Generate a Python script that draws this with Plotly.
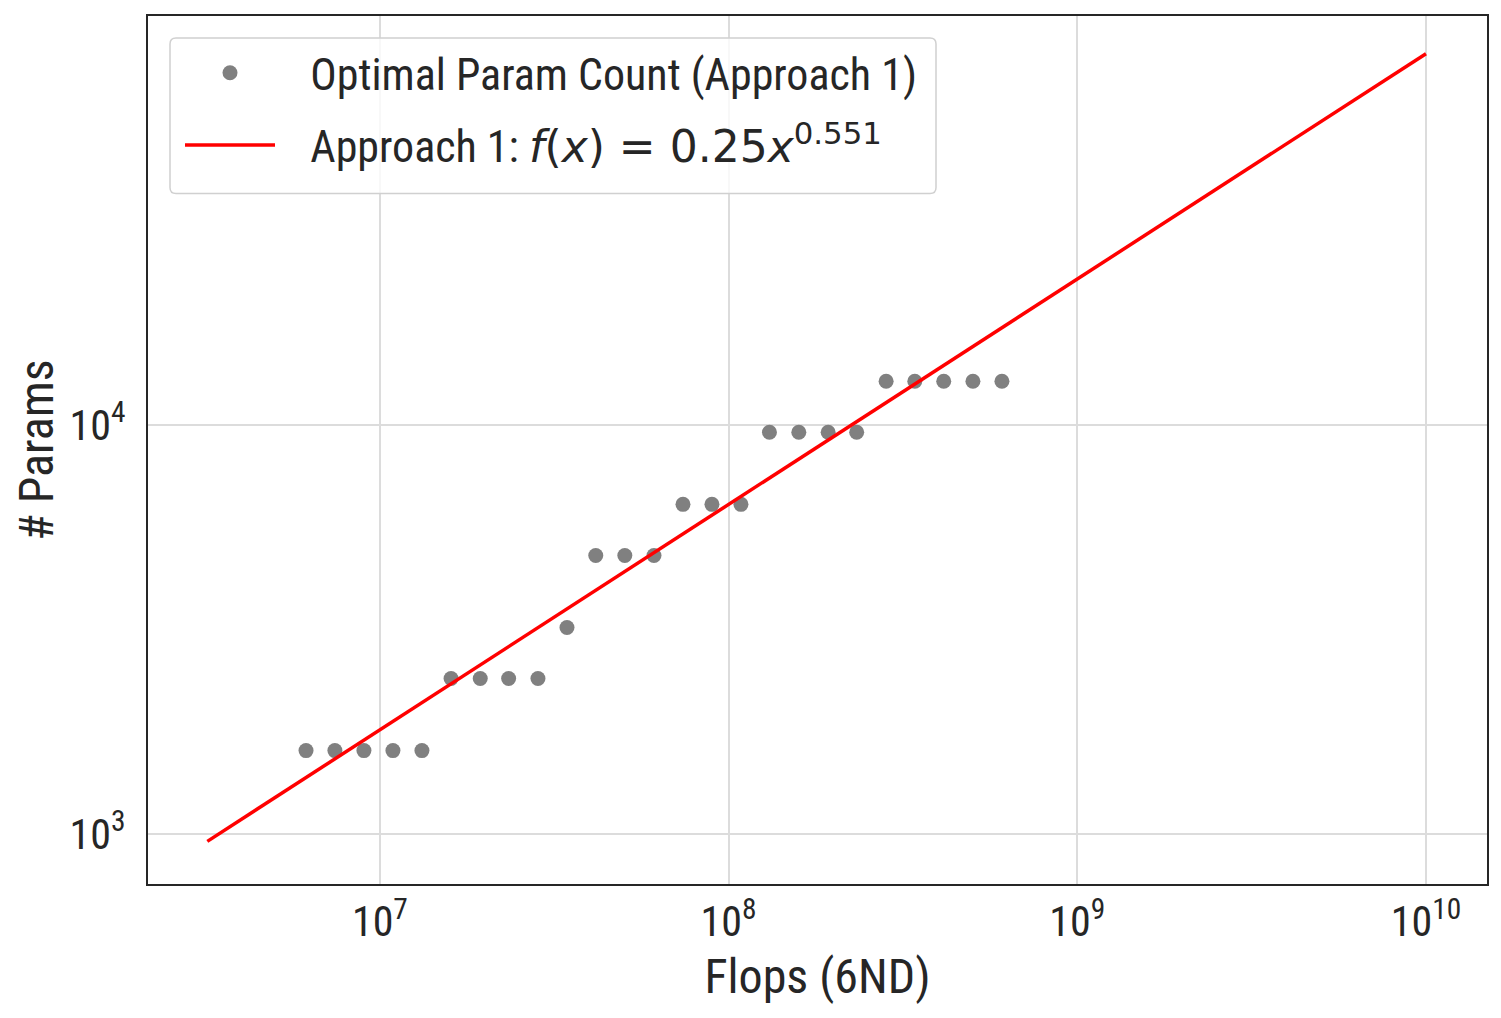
import plotly.graph_objects as go

# optimal param count per flops budget
flops = [6.14e6, 7.43e6, 9.00e6, 1.09e7, 1.32e7,
         1.60e7, 1.94e7, 2.34e7, 2.84e7,
         3.44e7,
         4.16e7, 5.04e7, 6.11e7,
         7.40e7, 8.96e7, 1.085e8,
         1.31e8, 1.59e8, 1.93e8, 2.33e8,
         2.83e8, 3.42e8, 4.14e8, 5.02e8, 6.08e8]
params = [1600] * 5 + [2400] * 4 + [3200] + [4800] * 3 + [6400] * 3 + [9600] * 4 + [12800] * 5

# fitted power law f(x) = a * x^b
fit_a = 0.25
fit_b = 0.551
fit_x = [3.2e6, 1e10]
fit_y = [fit_a * v ** fit_b for v in fit_x]

x_tickvals = [1e7, 1e8, 1e9, 1e10]
x_ticktext = ["10<sup>7</sup>", "10<sup>8</sup>", "10<sup>9</sup>", "10<sup>10</sup>"]
y_tickvals = [1e3, 1e4]
y_ticktext = ["10<sup>3</sup>", "10<sup>4</sup>"]

font_family = "Roboto Condensed, Liberation Sans Narrow, Roboto, sans-serif"
text_color = "#262626"
pad = "\u00a0" * 3

fig = go.Figure()
fig.add_trace(go.Scatter(
    x=flops, y=params, mode="markers",
    marker=dict(color="#808080", size=15),
    name=pad + "Optimal Param Count (Approach 1)",
    legendgroup="a",
))
fig.add_trace(go.Scatter(
    x=fit_x, y=fit_y, mode="lines",
    line=dict(color="red", width=3.5),
    name=pad + "Approach 1: <span style='font-family:DejaVu Sans'><i>f</i>(<i>x</i>) = 0.25<i>x</i><sup>0.551</sup></span>",
    legendgroup="b",
))

axis_style = dict(
    type="log",
    showline=True, linecolor=text_color, linewidth=2, mirror=True,
    showgrid=True, gridcolor="#dcdcdc", gridwidth=1.5,
    ticks="", zeroline=False,
    tickfont=dict(size=42, color=text_color, family=font_family),
)

fig.update_xaxes(
    **axis_style,
    range=[6.335, 10.175],
    tickvals=x_tickvals, ticktext=x_ticktext,
    ticklabelstandoff=0,
    title=dict(text="Flops (6ND)", font=dict(size=48, color=text_color, family=font_family), standoff=14),
)
fig.update_yaxes(
    **axis_style,
    range=[2.878, 5.0],
    tickvals=y_tickvals, ticktext=y_ticktext,
    ticklabelstandoff=12,
    title=dict(text="# Params", font=dict(size=48, color=text_color, family=font_family), standoff=18),
)

# legend frame drawn as a rounded box (the page body adds an 8px offset)
bx0, bx1 = (170 - 148) / 1339, (936 - 148) / 1339
by1, by0 = 1 - (36 - 14) / 870, 1 - (192 - 14) / 870
rx, ry = 6 / 1339, 6 / 870
box_path = (
    f"M {bx0 + rx} {by1} L {bx1 - rx} {by1} Q {bx1} {by1} {bx1} {by1 - ry} "
    f"L {bx1} {by0 + ry} Q {bx1} {by0} {bx1 - rx} {by0} "
    f"L {bx0 + rx} {by0} Q {bx0} {by0} {bx0} {by0 + ry} "
    f"L {bx0} {by1 - ry} Q {bx0} {by1} {bx0 + rx} {by1} Z"
)
fig.add_shape(type="path", path=box_path, xref="paper", yref="paper",
              fillcolor="rgba(255,255,255,0.8)", line=dict(color="#d0d0d0", width=1.5),
              layer="above")

fig.update_layout(
    width=1501, height=1018,
    margin=dict(l=140, r=22, t=6, b=142),
    plot_bgcolor="white", paper_bgcolor="white",
    font=dict(family=font_family, color=text_color),
    legend=dict(
        x=(180 - 148) / 1339, y=0.975, xanchor="left", yanchor="top",
        bgcolor="rgba(0,0,0,0)", borderwidth=0,
        font=dict(size=44, color=text_color, family=font_family),
        traceorder="grouped", tracegroupgap=12, itemwidth=90,
    ),
)

fig.write_html("out.html")
